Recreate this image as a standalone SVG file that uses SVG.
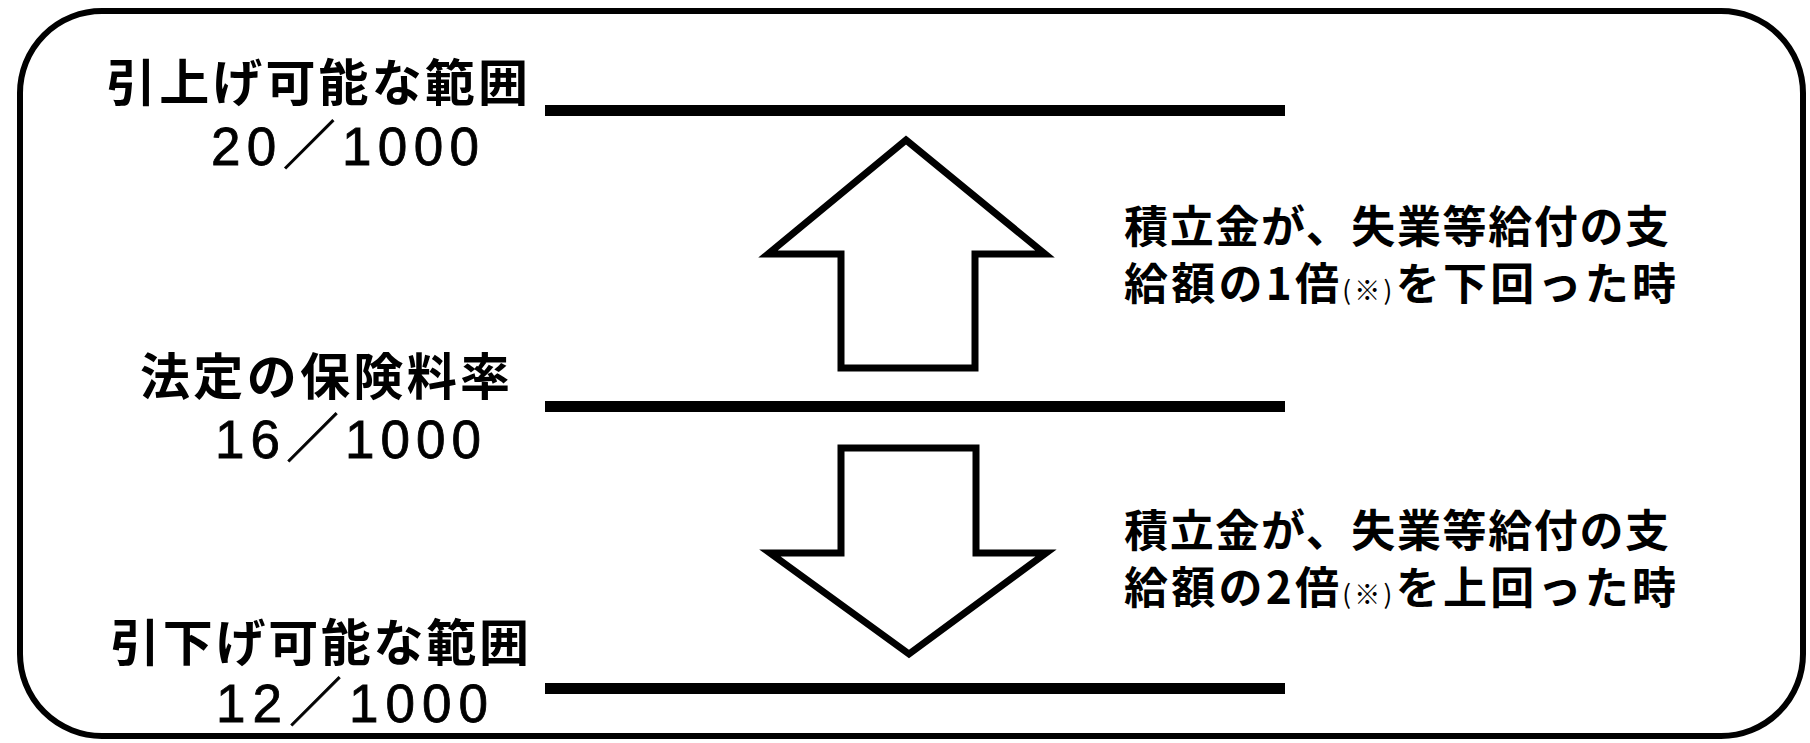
<svg xmlns="http://www.w3.org/2000/svg" width="1810" height="743" viewBox="0 0 1810 743">
<style>
.jp{font-family:"Noto Sans CJK JP","Noto Sans CJK SC",sans-serif;font-weight:bold;fill:#000;}
.num{font-family:"Liberation Sans","Noto Sans CJK JP",sans-serif;fill:#000;stroke:#000;stroke-width:0.8;}
.bar{fill:#000;}
.arrow{fill:#fff;stroke:#000;stroke-width:7;stroke-linejoin:miter;}
</style>
<rect x="0" y="0" width="1810" height="743" fill="#fff"/>
<rect id="frame" x="20" y="11" width="1783" height="725" rx="82" ry="82" fill="none" stroke="#000" stroke-width="6"/>
<g id="upper-limit">
<text class="jp" x="106" y="101" font-size="50" textLength="422" lengthAdjust="spacing">引上げ可能な範囲</text>
<text class="num" x="211" y="165" font-size="53" textLength="268" lengthAdjust="spacing">20／1000</text>
</g>
<g id="statutory-rate">
<text class="jp" x="140" y="395" font-size="50" textLength="370" lengthAdjust="spacing">法定の保険料率</text>
<text class="num" x="215" y="458" font-size="53" textLength="266" lengthAdjust="spacing">16／1000</text>
</g>
<g id="lower-limit">
<text class="jp" x="110" y="661" font-size="50" textLength="419" lengthAdjust="spacing">引下げ可能な範囲</text>
<text class="num" x="216" y="722" font-size="53" textLength="272" lengthAdjust="spacing">12／1000</text>
</g>
<g id="levels">
<rect class="bar" x="545" y="105" width="740" height="11"/>
<rect class="bar" x="545" y="401" width="740" height="11"/>
<rect class="bar" x="545" y="683" width="740" height="11"/>
</g>
<g id="connectors">
<polygon id="up-arrow" class="arrow" points="906,140 1045,254 975,254 975,368 841,368 841,254 768,254"/>
<polygon id="down-arrow" class="arrow" points="841,448 976,448 976,553 1046,553 909,654 770,553 841,553"/>
</g>
<g id="raise-condition">
<text class="jp" x="1124" y="243" font-size="44" textLength="545" lengthAdjust="spacing">積立金が、失業等給付の支</text>
<text class="jp" x="1124" y="300" font-size="44" textLength="552" lengthAdjust="spacing">給額の1倍<tspan font-size="26" font-weight="normal">(※)</tspan>を下回った時</text>
</g>
<g id="lower-condition">
<text class="jp" x="1124" y="547" font-size="44" textLength="545" lengthAdjust="spacing">積立金が、失業等給付の支</text>
<text class="jp" x="1124" y="604" font-size="44" textLength="552" lengthAdjust="spacing">給額の2倍<tspan font-size="26" font-weight="normal">(※)</tspan>を上回った時</text>
</g>
</svg>
